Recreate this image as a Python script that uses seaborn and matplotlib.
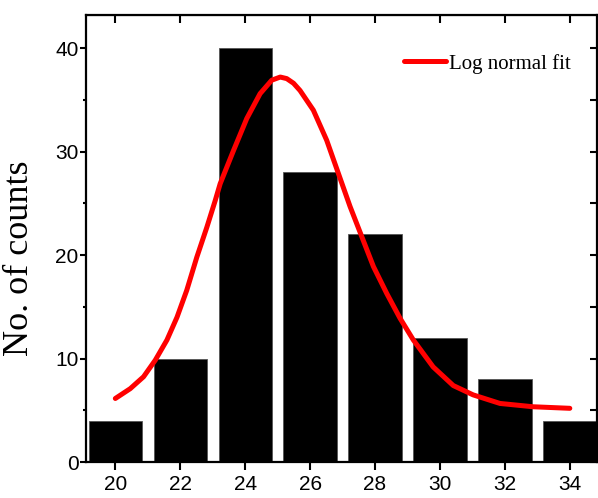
import matplotlib
matplotlib.use("Agg")
import matplotlib.pyplot as plt
import seaborn as sns
import pandas as pd

# histogram of counts
bin_centers = [20, 22, 24, 26, 28, 30, 32, 34]
counts = [4, 10, 40, 28, 22, 12, 8, 4]

# log normal fit curve
fit_x = [20.0, 20.46, 20.87, 21.23, 21.59, 21.9, 22.2, 22.51, 22.82, 23.08,
         23.23, 23.64, 24.05, 24.46, 24.82, 25.08, 25.28, 25.49, 25.69, 26.1,
         26.51, 26.87, 27.23, 27.59, 27.95, 28.36, 28.77, 29.18, 29.79, 30.41,
         31.02, 31.85, 32.87, 34.0]
fit_y = [6.15, 7.1, 8.25, 9.85, 11.8, 14.0, 16.6, 19.8, 22.7, 25.3,
         26.9, 30.1, 33.2, 35.6, 36.9, 37.2, 37.05, 36.6, 35.9, 34.0,
         31.1, 27.9, 24.7, 21.8, 18.9, 16.3, 13.9, 11.8, 9.2, 7.4,
         6.5, 5.67, 5.35, 5.2]

sns.set_style("ticks")
plt.rcParams["font.family"] = ["Liberation Sans", "DejaVu Sans"]
plt.rcParams["text.color"] = "black"
plt.rcParams["xtick.color"] = "black"
plt.rcParams["ytick.color"] = "black"
plt.rcParams["axes.labelcolor"] = "black"

hist = pd.DataFrame({"size": bin_centers, "count": counts})
fit = pd.DataFrame({"size": fit_x, "count": fit_y})

fig = plt.figure(figsize=(5.98, 4.98), dpi=100)
ax = fig.add_axes([0.144, 0.072, 0.855, 0.898])

sns.barplot(data=hist, x="size", y="count", native_scale=True, width=0.82,
            color="black", edgecolor="#555555", linewidth=0.6, saturation=1,
            ax=ax)
sns.lineplot(data=fit, x="size", y="count", sort=False, color="red",
             linewidth=3.6, label="Log normal fit", ax=ax,
             solid_joinstyle="round", solid_capstyle="round")

ax.set_xlim(19.1, 34.85)
ax.set_ylim(0, 43.2)
ax.set_xticks(bin_centers)
ax.set_yticks([0, 10, 20, 30, 40])
ax.set_yticks([5, 15, 25, 35], minor=True)
ax.set_xlabel("")
ax.set_ylabel("No. of counts", family="Liberation Serif", fontsize=26)
ax.yaxis.set_label_coords(-0.098, 0.456)

for s in ax.spines.values():
    s.set_linewidth(1.6)
    s.set_color("black")

ax.tick_params(axis="x", which="major", direction="out", length=6, width=1.5,
               labelsize=15, pad=3)
ax.tick_params(axis="y", which="major", direction="out", length=4.5, width=1.5,
               labelsize=15, pad=1)
ax.tick_params(axis="y", which="minor", direction="out", length=2.5, width=1.5)

top = ax.secondary_xaxis("top")
top.set_xticks(bin_centers)
top.tick_params(direction="in", length=6, width=1.5, labeltop=False)
right = ax.secondary_yaxis("right")
right.set_yticks([0, 5, 10, 15, 20, 25, 30, 35, 40])
right.tick_params(direction="in", length=5, width=1.5, labelright=False)

leg = ax.legend(loc="upper right", bbox_to_anchor=(0.985, 0.955), frameon=False,
                handlelength=2.0, handletextpad=0.15,
                prop={"family": "Liberation Serif", "size": 15})

fig.savefig("out.png", dpi=100)
